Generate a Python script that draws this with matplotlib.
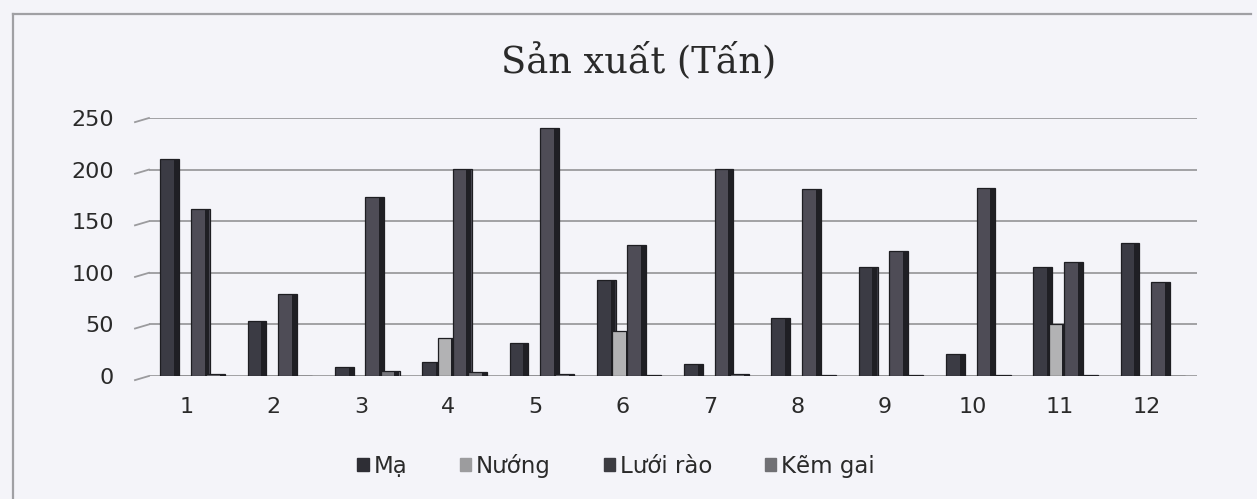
import numpy as np
import matplotlib
matplotlib.use('Agg')
import matplotlib.pyplot as plt

# values
months = ['1', '2', '3', '4', '5', '6', '7', '8', '9', '10', '11', '12']
ma = [210, 53, 9, 14, 32, 93, 12, 56, 106, 21, 106, 129]
nuong = [0, 0, 0, 37, 0, 44, 0, 0, 0, 0, 50, 0]
luoi_rao = [162, 79, 173, 201, 240, 127, 201, 181, 121, 182, 110, 91]
kem_gai = [2, 0, 5, 4, 2, 1, 2, 1, 1, 1, 1, 0]
series_names = ['Mạ', 'Nướng', 'Lưới rào', 'Kẽm gai']
yticks = [0, 50, 100, 150, 200, 250]

bg = '#f4f4f9'
face = ['#3b3b44', '#b2b2b4', '#4e4c56', '#76767c']
legend_col = ['#2e2e35', '#9c9c9e', '#3c3c42', '#707074']

fig = plt.figure(figsize=(12.57, 4.99), dpi=100, facecolor=bg)
ax = fig.add_axes([0.1185, 0.2465, 0.8335, 0.517])
ax.set_facecolor(bg)

x = np.arange(1, 13)
step = 0.175
w = 0.215
offs = [-1.5 * step, -0.5 * step, 0.5 * step, 1.5 * step]
data = [ma, nuong, luoi_rao, kem_gai]

for i, vals in enumerate(data):
    ax.bar(x + offs[i], vals, width=w, color=face[i], edgecolor='#1e1e22',
           linewidth=0.9, zorder=3 + 2 * i, label=series_names[i])
    # darker side face to fake the 3D look
    ax.bar(x + offs[i] + w * 0.36, vals, width=w * 0.26, color='#1f1f24',
           linewidth=0, zorder=4 + 2 * i)

ax.set_xlim(0.5, 12.5)
ax.set_ylim(0, 250)
ax.set_yticks(yticks)
ax.set_xticks(x - 0.07)
ax.set_xticklabels(months)
ax.yaxis.grid(True, color='#9b9b9e', linewidth=1.3, zorder=0)
ax.set_axisbelow(True)
for s in ax.spines.values():
    s.set_visible(False)
ax.tick_params(axis='both', length=0, labelsize=16, colors='#2a2a2a')
ax.tick_params(axis='y', pad=25)
ax.tick_params(axis='x', pad=15)

# little slanted stubs at the left end of each gridline
for v in yticks:
    ax.plot([0.5 - 0.16, 0.5], [v - 4, v], color='#9b9b9e', lw=1.3,
            clip_on=False, zorder=1)

fig.text(0.508, 0.878, 'Sản xuất (Tấn)', ha='center', va='center',
         fontsize=26.5, family='DejaVu Serif', color='#2a2a2a')

handles = [plt.Rectangle((0, 0), 1, 1, color=c) for c in legend_col]
fig.legend(handles, series_names, loc='center', bbox_to_anchor=(0.49, 0.066),
           ncol=4, frameon=False, fontsize=16.5, handlelength=0.5,
           handleheight=0.5, handletextpad=0.2, columnspacing=2.3,
           labelcolor='#2a2a2a')

# outer chart border (left and top visible in the scan)
fig.add_artist(plt.Line2D([0.0103, 0.0103], [0.0, 0.972], color='#a0a0a4',
                          lw=1.6, transform=fig.transFigure))
fig.add_artist(plt.Line2D([0.0103, 0.995], [0.972, 0.972], color='#a0a0a4',
                          lw=1.6, transform=fig.transFigure))

fig.savefig('out.png', dpi=100, facecolor=bg)
